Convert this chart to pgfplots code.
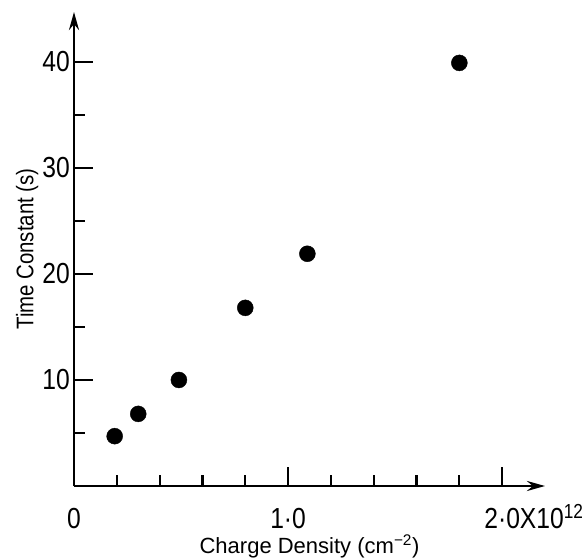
\documentclass[border=0pt]{standalone}
\usepackage{fontspec}
\setmainfont{Liberation Sans}[FakeStretch=0.85]
\newfontfamily\labelfont{Liberation Sans}
\usepackage{pgfplots}
\pgfplotsset{compat=1.18}
\usetikzlibrary{arrows.meta}

\begin{document}
\begin{tikzpicture}
\useasboundingbox (-74pt,-71pt) rectangle (512pt,486pt);
\begin{axis}[
    anchor=origin, at={(0pt,0pt)},
    scale only axis,
    width=471pt, height=474pt,
    xmin=0, xmax=2.2, ymin=0, ymax=44.7,
    axis lines=left,
    axis line style={line width=2.6pt, -{Stealth[length=18pt,width=10pt]}},
    tick align=inside,
    major tick length=19pt,
    minor tick length=11pt,
    every tick/.style={black, line width=2.2pt},
    xtick={0,1,2},
    xticklabels={0, 1·0, 2·0\rlap{X10\textsuperscript{12}}},
    minor xtick={0.2,0.4,0.6,0.8,1.2,1.4,1.6,1.8},
    ytick={10,20,30,40},
    minor ytick={5,15,25,35},
    /pgf/number format/assume math mode=true,
    tick label style={font=\fontsize{29}{31}\selectfont},
    xticklabel style={anchor=base, yshift=-42pt, inner sep=0pt},
    yticklabel style={anchor=east, xshift=-4pt, inner sep=0pt},
    xlabel={Charge Density (cm\textsuperscript{−2})},
    ylabel={Time Constant (s)},
    label style={font=\fontsize{24}{26}\selectfont},
    xlabel style={font=\labelfont\fontsize{22}{24}\selectfont, at={(axis description cs:0.5,0)}, anchor=base, inner sep=0pt, yshift=-67pt},
    ylabel style={at={(axis description cs:0,0.5)}, anchor=south, rotate=0, yshift=32pt},
    clip=false,
]
\addplot[only marks, mark=*, mark size=8pt, black] coordinates {
    (0.19,4.7) (0.30,6.8) (0.49,10.0) (0.80,16.8) (1.09,21.9) (1.80,39.9)
};
\end{axis}
\end{tikzpicture}
\end{document}
